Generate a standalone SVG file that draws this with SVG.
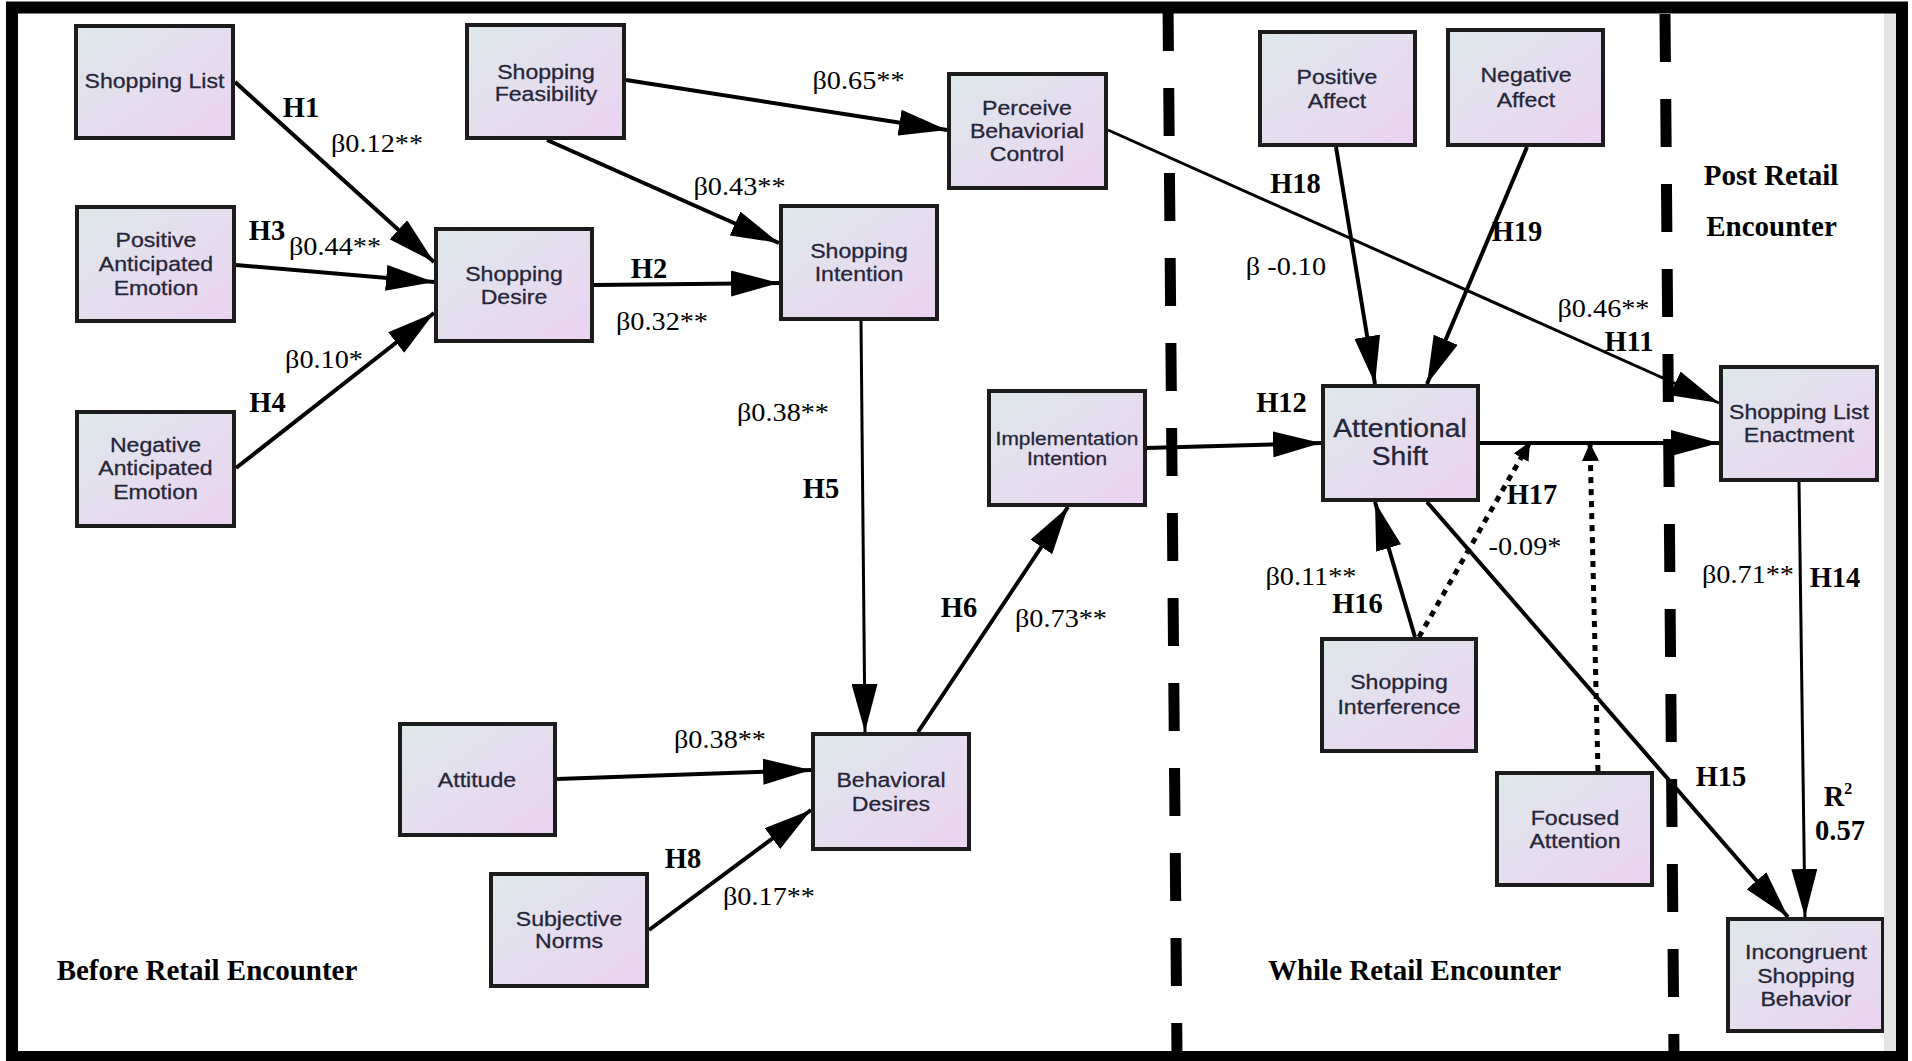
<svg xmlns="http://www.w3.org/2000/svg" width="1912" height="1061" viewBox="0 0 1912 1061">
  <defs>
    <linearGradient id="boxFill" x1="0" y1="0" x2="1" y2="1">
      <stop offset="0" stop-color="#dee8ea"/>
      <stop offset="1" stop-color="#ebd3f2"/>
    </linearGradient>
    <marker id="head" markerUnits="userSpaceOnUse" markerWidth="48" markerHeight="26" refX="48" refY="13" orient="auto">
      <path d="M0,0 L48,13 L0,26 z" fill="#000"/>
    </marker>
    <marker id="headSmall" markerUnits="userSpaceOnUse" markerWidth="18" markerHeight="17" refX="18" refY="8.5" orient="auto">
      <path d="M0,0 L18,8.5 L0,17 z" fill="#000"/>
    </marker>
  </defs>
  <style>
    .box { fill: url(#boxFill); stroke: #1c1c1c; stroke-width: 4; }
    .bt { font-family: "Liberation Sans", Arial, sans-serif; font-size: 21px; fill: #26263a; stroke: #26263a; stroke-width: 0.3; text-anchor: middle; transform-box: fill-box; transform-origin: center; transform: scaleX(1.1); }
    .bt.big { font-size: 25px; transform: scaleX(1.13); }
    .bt.small { font-size: 18.5px; transform: scaleX(1.13); }
    .beta { font-family: "Liberation Serif", "Times New Roman", serif; font-size: 25px; fill: #000; text-anchor: middle; transform-box: fill-box; transform-origin: center; transform: scaleX(1.13); }
    .hyp { font-family: "Liberation Serif", "Times New Roman", serif; font-size: 28.5px; font-weight: bold; fill: #000; text-anchor: middle; }
    .phase { font-family: "Liberation Serif", "Times New Roman", serif; font-size: 29px; font-weight: bold; fill: #000; text-anchor: middle; }
    .edge { fill: none; stroke: #000; stroke-width: 4; marker-end: url(#head); }
    .edge.thin { stroke-width: 3; }
    .dotted { fill: none; stroke: #000; stroke-width: 5; stroke-dasharray: 6 6; marker-end: url(#headSmall); }
    .divider { fill: none; stroke: #000; stroke-width: 11; stroke-dasharray: 48 37; }
  </style>

  <rect width="1912" height="1061" fill="#fff"/>

  <!-- stage dividers -->
  <g id="dividers">
    <line class="divider" x1="1168" y1="3" x2="1177" y2="1056"/>
    <line class="divider" x1="1665" y1="14" x2="1674" y2="1056"/>
  </g>

  <!-- connectors -->
  <g id="connectors">
    <line class="edge" x1="235" y1="82" x2="434" y2="262"/>
    <line class="edge" x1="236" y1="265" x2="434" y2="282"/>
    <line class="edge" x1="236" y1="468" x2="434" y2="313"/>
    <line class="edge" x1="594" y1="285" x2="779" y2="283"/>
    <line class="edge" x1="626" y1="80" x2="947" y2="130"/>
    <line class="edge" x1="547" y1="140" x2="779" y2="243"/>
    <line class="edge thin" x1="1108" y1="130" x2="1719" y2="403"/>
    <line class="edge thin" x1="861" y1="321" x2="865" y2="732"/>
    <line class="edge" x1="918" y1="732" x2="1068" y2="507"/>
    <line class="edge" x1="557" y1="779" x2="811" y2="770"/>
    <line class="edge" x1="649" y1="930" x2="811" y2="810"/>
    <line class="edge" x1="1146" y1="448" x2="1321" y2="443"/>
    <line class="edge" x1="1336" y1="147" x2="1375" y2="384"/>
    <line class="edge" x1="1527" y1="147" x2="1427" y2="384"/>
    <line class="edge" x1="1480" y1="443" x2="1719" y2="443"/>
    <line class="edge" x1="1415" y1="637" x2="1375" y2="502"/>
    <line class="edge" x1="1427" y1="502" x2="1788" y2="917"/>
    <line class="edge thin" x1="1799" y1="482" x2="1805" y2="917"/>
    <line class="dotted" x1="1419" y1="637" x2="1530" y2="442"/>
    <line class="dotted" x1="1598" y1="771" x2="1590" y2="443"/>
  </g>

  <!-- constructs -->
  <g id="shopping-list">
    <rect class="box" x="76" y="26" width="157" height="112"/>
    <text class="bt" x="154.5" y="88">Shopping List</text>
  </g>
  <g id="positive-anticipated-emotion">
    <rect class="box" x="77" y="207" width="157" height="114"/>
    <text class="bt" x="156" y="247">Positive</text>
    <text class="bt" x="156" y="271">Anticipated</text>
    <text class="bt" x="156" y="295">Emotion</text>
  </g>
  <g id="negative-anticipated-emotion">
    <rect class="box" x="77" y="412" width="157" height="114"/>
    <text class="bt" x="155.5" y="452">Negative</text>
    <text class="bt" x="155.5" y="475">Anticipated</text>
    <text class="bt" x="155.5" y="499">Emotion</text>
  </g>
  <g id="shopping-desire">
    <rect class="box" x="436" y="229" width="156" height="112"/>
    <text class="bt" x="514" y="281">Shopping</text>
    <text class="bt" x="514" y="304">Desire</text>
  </g>
  <g id="shopping-feasibility">
    <rect class="box" x="467" y="25" width="157" height="113"/>
    <text class="bt" x="546" y="79">Shopping</text>
    <text class="bt" x="546" y="101">Feasibility</text>
  </g>
  <g id="perceived-behavioral-control">
    <rect class="box" x="949" y="74" width="157" height="114"/>
    <text class="bt" x="1027" y="115">Perceive</text>
    <text class="bt" x="1027" y="138">Behaviorial</text>
    <text class="bt" x="1027" y="161">Control</text>
  </g>
  <g id="shopping-intention">
    <rect class="box" x="781" y="206" width="156" height="113"/>
    <text class="bt" x="859" y="258">Shopping</text>
    <text class="bt" x="859" y="281">Intention</text>
  </g>
  <g id="implementation-intention">
    <rect class="box" x="989" y="391" width="156" height="114"/>
    <text class="bt small" x="1067" y="445">Implementation</text>
    <text class="bt small" x="1067" y="465">Intention</text>
  </g>
  <g id="behavioral-desires">
    <rect class="box" x="813" y="734" width="156" height="115"/>
    <text class="bt" x="891" y="787">Behavioral</text>
    <text class="bt" x="891" y="811">Desires</text>
  </g>
  <g id="attitude">
    <rect class="box" x="400" y="724" width="155" height="111"/>
    <text class="bt" x="477" y="787">Attitude</text>
  </g>
  <g id="subjective-norms">
    <rect class="box" x="491" y="874" width="156" height="112"/>
    <text class="bt" x="569" y="926">Subjective</text>
    <text class="bt" x="569" y="948">Norms</text>
  </g>
  <g id="positive-affect">
    <rect class="box" x="1260" y="32" width="155" height="113"/>
    <text class="bt" x="1337" y="84">Positive</text>
    <text class="bt" x="1337" y="108">Affect</text>
  </g>
  <g id="negative-affect">
    <rect class="box" x="1448" y="30" width="155" height="115"/>
    <text class="bt" x="1526" y="82">Negative</text>
    <text class="bt" x="1526" y="107">Affect</text>
  </g>
  <g id="attentional-shift">
    <rect class="box" x="1323" y="386" width="155" height="114"/>
    <text class="bt big" x="1400" y="437">Attentional</text>
    <text class="bt big" x="1400" y="465">Shift</text>
  </g>
  <g id="shopping-list-enactment">
    <rect class="box" x="1721" y="367" width="156" height="113"/>
    <text class="bt" x="1799" y="419">Shopping List</text>
    <text class="bt" x="1799" y="442">Enactment</text>
  </g>
  <g id="shopping-interference">
    <rect class="box" x="1322" y="639" width="154" height="112"/>
    <text class="bt" x="1399" y="689">Shopping</text>
    <text class="bt" x="1399" y="714">Interference</text>
  </g>
  <g id="focused-attention">
    <rect class="box" x="1497" y="773" width="155" height="112"/>
    <text class="bt" x="1575" y="825">Focused</text>
    <text class="bt" x="1575" y="848">Attention</text>
  </g>
  <g id="incongruent-shopping-behavior">
    <rect class="box" x="1728" y="919" width="155" height="112"/>
    <text class="bt" x="1806" y="959">Incongruent</text>
    <text class="bt" x="1806" y="983">Shopping</text>
    <text class="bt" x="1806" y="1006">Behavior</text>
  </g>

  <!-- path coefficients and hypothesis labels -->
  <g id="labels">
    <text class="hyp" x="301" y="117">H1</text>
    <text class="beta" x="377" y="152">β0.12**</text>
    <text class="hyp" x="267" y="240">H3</text>
    <text class="beta" x="335" y="255">β0.44**</text>
    <text class="beta" x="324" y="368">β0.10*</text>
    <text class="hyp" x="267.5" y="412">H4</text>
    <text class="beta" x="858.5" y="89">β0.65**</text>
    <text class="beta" x="739.5" y="195">β0.43**</text>
    <text class="hyp" x="649" y="278">H2</text>
    <text class="beta" x="662" y="330">β0.32**</text>
    <text class="beta" x="783" y="421">β0.38**</text>
    <text class="hyp" x="821" y="498">H5</text>
    <text class="hyp" x="959" y="617">H6</text>
    <text class="beta" x="1061" y="627">β0.73**</text>
    <text class="beta" x="720" y="748">β0.38**</text>
    <text class="hyp" x="683" y="868">H8</text>
    <text class="beta" x="769" y="905">β0.17**</text>
    <text class="hyp" x="1295.5" y="193">H18</text>
    <text class="beta" x="1286" y="275">β -0.10</text>
    <text class="hyp" x="1517" y="241">H19</text>
    <text class="beta" x="1603.5" y="317">β0.46**</text>
    <text class="hyp" x="1629" y="351">H11</text>
    <text class="hyp" x="1281.5" y="412">H12</text>
    <text class="hyp" x="1532" y="504">H17</text>
    <text class="beta" x="1525" y="555">-0.09*</text>
    <text class="beta" x="1311" y="585">β0.11**</text>
    <text class="hyp" x="1357.5" y="613">H16</text>
    <text class="beta" x="1748" y="583">β0.71**</text>
    <text class="hyp" x="1835" y="587">H14</text>
    <text class="hyp" x="1721" y="786">H15</text>
    <text class="hyp" x="1838" y="806">R<tspan font-size="16" dy="-12">2</tspan></text>
    <text class="hyp" x="1840" y="840">0.57</text>
  </g>

  <!-- encounter stage titles -->
  <g id="stage-titles">
    <text class="phase" x="207" y="980">Before Retail Encounter</text>
    <text class="phase" x="1414.5" y="980">While Retail Encounter</text>
    <text class="phase" x="1771" y="185">Post Retail</text>
    <text class="phase" x="1771.5" y="236">Encounter</text>
  </g>

  <!-- outer frame -->
  <g id="frame">
    <rect x="1884" y="13" width="12" height="1038" fill="#e4e4e4"/>
    <rect x="12" y="7.5" width="1890" height="1049.5" fill="none" stroke="#000" stroke-width="12"/>
  </g>
</svg>
